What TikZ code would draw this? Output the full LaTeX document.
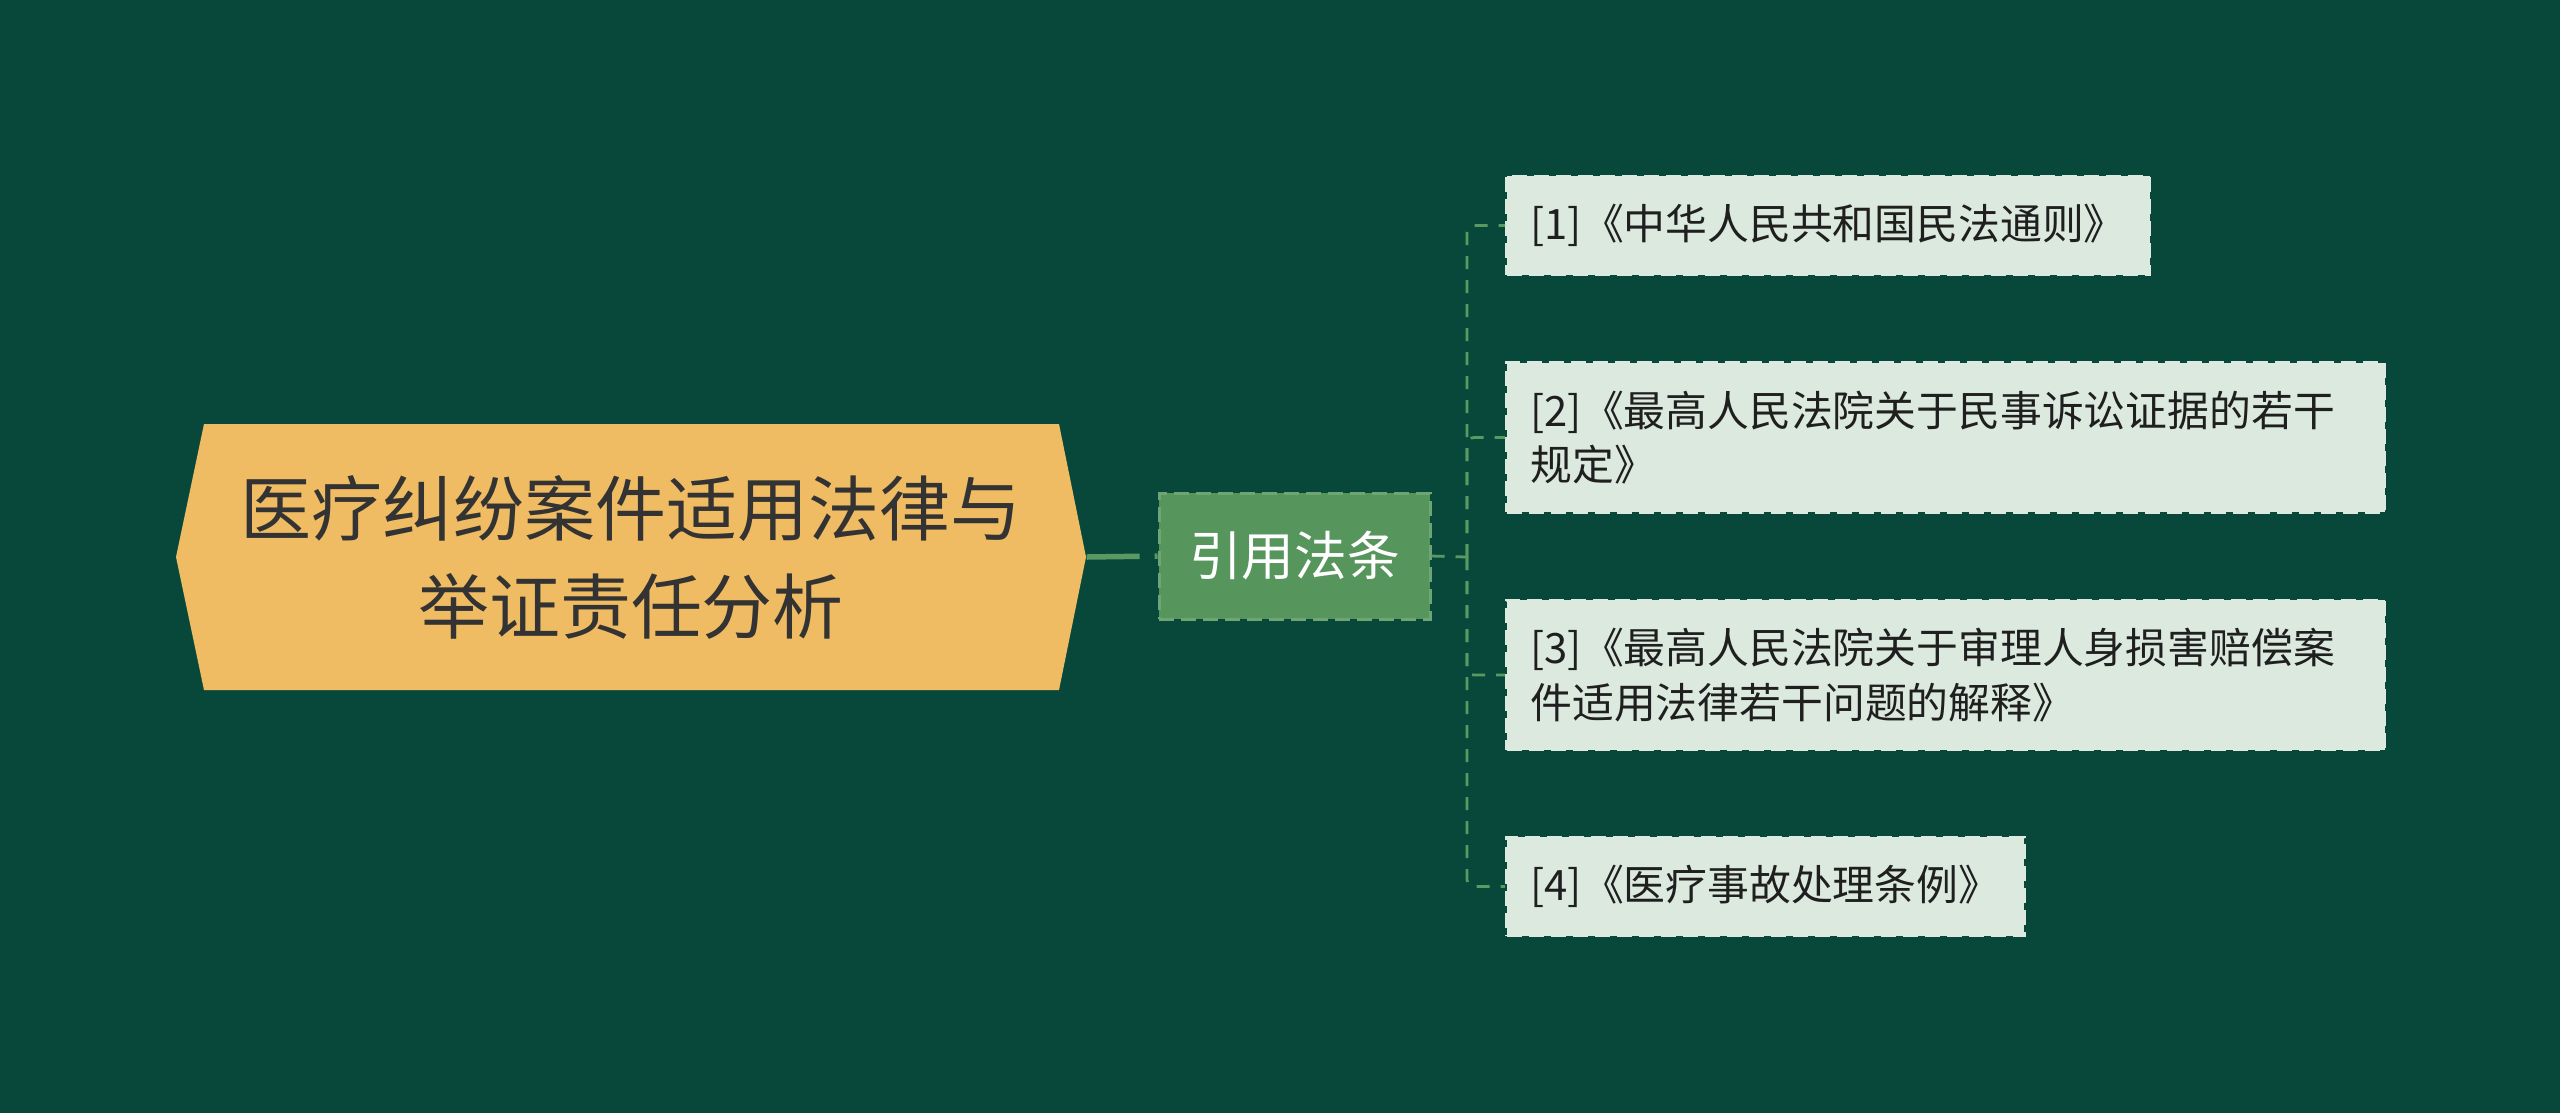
\documentclass[tikz,border=0pt]{standalone}
\usepackage{fontspec}
\newfontfamily\cjk{Noto Sans CJK SC}
\usetikzlibrary{positioning}
\definecolor{bgcol}{HTML}{08483A}
\definecolor{rootfill}{HTML}{F0BC63}
\definecolor{rootink}{HTML}{333333}
\definecolor{citefill}{HTML}{56955C}
\definecolor{leaffill}{HTML}{DCE9DF}
\definecolor{linkcol}{HTML}{5A9A62}

\begin{document}
\begin{tikzpicture}[
		hexnode/.style={minimum width=9.1cm,minimum height=2.66cm,inner sep=0,
			align=center,text=rootink,font=\cjk\fontsize{20.2pt}{27.9pt}\selectfont,
			path picture={\fill[rootfill]
				([xshift=0.28cm]path picture bounding box.north west) --
				([xshift=-0.27cm]path picture bounding box.north east) --
				(path picture bounding box.east) --
				([xshift=-0.27cm]path picture bounding box.south east) --
				([xshift=0.28cm]path picture bounding box.south west) --
				(path picture bounding box.west) -- cycle;}},
		citebox/.style={fill=citefill,draw=citefill!85!white,line width=0.03cm,
			dash pattern=on 0.15cm off 0.07cm,minimum width=2.71cm,minimum height=1.26cm,
			text=white,font=\cjk\fontsize{15pt}{18pt}\selectfont},
		leafbox/.style={fill=leaffill,draw=leaffill,line width=0.03cm,
			dash pattern=on 0.15cm off 0.07cm,anchor=west,align=left,
			inner xsep=0.24cm,inner ysep=0.28cm,text=black!88,
			font=\cjk\fontsize{11.9pt}{15.6pt}\selectfont},
		wideleaf/.style={leafbox,text width=8.3cm},
		trunk/.style={linkcol,line width=0.055cm,dash pattern=on 0.53cm off 0.15cm},
		twig/.style={linkcol,line width=0.028cm,dash pattern=on 0.13cm off 0.11cm,rounded corners=2pt}
	]
		\fill[bgcol] (0,0) rectangle (25.6,-11.13);
		\useasboundingbox (0,0) rectangle (25.6,-11.13);

		\node[hexnode] (root) at (6.31,-5.57) {医疗纠纷案件适用法律与\\举证责任分析};
		\node[citebox] (cite) at (12.945,-5.56) {引用法条};

		\node[leafbox] (leaf1) at (15.05,-2.255) {[1]《中华人民共和国民法通则》};
		\node[wideleaf] (leaf2) at (15.05,-4.375) {[2]《最高人民法院关于民事诉讼证据的若干\\规定》};
		\node[wideleaf] (leaf3) at (15.05,-6.75) {[3]《最高人民法院关于审理人身损害赔偿案\\件适用法律若干问题的解释》};
		\node[leafbox] (leaf4) at (15.05,-8.865) {[4]《医疗事故处理条例》};

		\coordinate (fork) at (14.67,-5.57);

		\draw[trunk] (root.east) -- (cite.west);
		\draw[twig] (cite.east) -- (fork);
		\foreach \n in {1,2,3,4}
			\draw[twig] (fork) |- (leaf\n.west);
	\end{tikzpicture}
\end{document}
